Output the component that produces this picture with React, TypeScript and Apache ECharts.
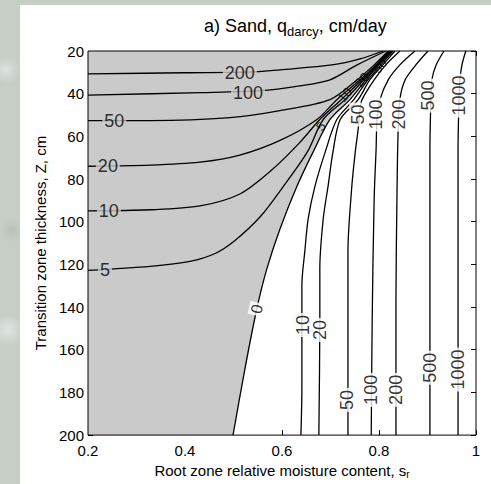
import React, { useEffect, useRef } from "react";
import * as echarts from "echarts";

// axis ranges
const xRange: [number, number] = [0.2, 1];
const yRange: [number, number] = [20, 200];
const xStep = 0.2;
const yStep = 20;

// contour lines: [s_r, Z]
const neg200 = [[0.2, 30.7], [0.4, 30.2], [0.544, 29.8], [0.596, 28.8], [0.703, 26.5], [0.761, 23.7], [0.808, 20]];
const neg100 = [[0.2, 40.7], [0.431, 39.5], [0.555, 38.6], [0.637, 36.3], [0.699, 33.5], [0.755, 26.5], [0.814, 20]];
const neg50 = [[0.2, 52.6], [0.328, 52.6], [0.493, 51.2], [0.596, 47.9], [0.699, 42.8], [0.755, 33.5], [0.79, 26.5], [0.819, 20]];
const neg20 = [[0.2, 74.0], [0.328, 73.5], [0.431, 72.1], [0.513, 68.8], [0.596, 61.9], [0.672, 52.1], [0.713, 42.8], [0.761, 33.5], [0.794, 26.5], [0.821, 20]];
const neg10 = [[0.2, 94.9], [0.328, 94.4], [0.431, 92.6], [0.513, 87.0], [0.581, 75.3], [0.637, 62.8], [0.678, 52.1], [0.722, 42.8], [0.765, 33.5], [0.796, 26.5], [0.823, 20]];
const neg5 = [[0.2, 122.8], [0.328, 120.9], [0.41, 118.6], [0.462, 114.9], [0.503, 108.8], [0.555, 97.7], [0.602, 83.7], [0.652, 67.4], [0.685, 52.1], [0.73, 42.8], [0.769, 33.5], [0.798, 26.5], [0.825, 20]];
const zero = [[0.499, 200], [0.524, 168.4], [0.548, 140.9], [0.569, 121.9], [0.596, 103.3], [0.631, 83.3], [0.664, 67.4], [0.699, 52.1], [0.74, 42.8], [0.773, 33.5], [0.8, 26.5], [0.827, 20]];
const pos10 = [[0.639, 200], [0.641, 177.7], [0.641, 143.7], [0.641, 129.8], [0.647, 114.0], [0.654, 98.6], [0.668, 83.3], [0.689, 67.4], [0.713, 52.1], [0.748, 42.8], [0.777, 33.5], [0.804, 26.5], [0.829, 20]];
const pos20 = [[0.676, 200], [0.678, 145.1], [0.678, 121.9], [0.685, 98.6], [0.695, 83.3], [0.705, 67.4], [0.72, 52.1], [0.757, 42.8], [0.781, 33.5], [0.808, 26.5], [0.833, 20]];
const pos50 = [[0.736, 200], [0.736, 145.1], [0.736, 114.0], [0.744, 83.3], [0.751, 67.4], [0.757, 56.7], [0.761, 47.4], [0.765, 42.8], [0.79, 33.5], [0.814, 26.5], [0.843, 20]];
const pos100 = [[0.784, 200], [0.786, 145.1], [0.79, 89.3], [0.794, 66.0], [0.796, 52.1], [0.802, 42.8], [0.819, 33.5], [0.843, 26.5], [0.874, 20]];
const pos200 = [[0.835, 200], [0.835, 135.8], [0.837, 89.3], [0.839, 61.4], [0.843, 42.8], [0.854, 33.5], [0.876, 26.5], [0.901, 20]];
const pos500 = [[0.905, 200], [0.905, 135.8], [0.905, 66.0], [0.907, 42.8], [0.909, 33.5], [0.918, 26.5], [0.934, 20]];
const pos1000 = [[0.963, 200], [0.963, 135.8], [0.963, 66.0], [0.965, 42.8], [0.967, 33.5], [0.971, 26.5], [0.979, 20]];

const contours = [neg200, neg100, neg50, neg20, neg10, neg5, zero, pos10, pos20, pos50, pos100, pos200, pos500, pos1000];

// shaded (negative flux) region: left of the zero contour
const shadedCorners = [[0.2, 20], [0.2, 200]];

// contour labels
const negLabels = [
  { name: "200", value: [0.513, 30.2] },
  { name: "100", value: [0.53, 39.5] },
  { name: "50", value: [0.254, 52.6] },
  { name: "20", value: [0.241, 74.0] },
  { name: "10", value: [0.243, 94.9] },
  { name: "5", value: [0.235, 122.8] },
];
const posLabels = [
  { name: "10", value: [0.643, 148.4] },
  { name: "20", value: [0.678, 150.7] },
  { name: "50", value: [0.735, 183.5] },
  { name: "100", value: [0.783, 178.8] },
  { name: "200", value: [0.835, 178.8] },
  { name: "500", value: [0.905, 168.4] },
  { name: "1000", value: [0.963, 169.3] },
  { name: "50", value: [0.757, 49.8] },
  { name: "100", value: [0.794, 49.8] },
  { name: "200", value: [0.841, 49.8] },
  { name: "500", value: [0.901, 40.9] },
  { name: "1000", value: [0.965, 40.9] },
];
const zeroLabel = [{ name: "0", value: [0.548, 140.9] }];
const crowdedLabels = [
  { name: "5", value: [0.68, 55.3] },
  { name: "10", value: [0.73, 40.5] },
  { name: "20", value: [0.765, 33.5] },
  { name: "50", value: [0.802, 27.0] },
];

const FONT = "'Liberation Sans', Arial, Helvetica, sans-serif";
const SHADE = "#cacaca";

function labelSeries(data: any[], rotate: number, bg: string, size: number, z: number) {
  return {
    type: "scatter",
    data,
    symbolSize: 1,
    itemStyle: { color: "rgba(0,0,0,0)" },
    silent: true,
    z,
    label: {
      show: true,
      position: "inside",
      formatter: (p: any) => p.name,
      rotate,
      fontSize: size,
      fontFamily: FONT,
      color: "#000",
      backgroundColor: bg,
      padding: [0, 2],
    },
  };
}

export default function App() {
  const ref = useRef<HTMLDivElement>(null);
  useEffect(() => {
    if (!ref.current) return;
    const chart = echarts.init(ref.current, null, { renderer: "svg" });
    const polygon = [...zero, ...shadedCorners];
    const option: any = {
      animation: false,
      title: {
        text: "a) Sand, q{sub|darcy}, cm/day",
        left: 199,
        top: 9,
        textStyle: {
          fontSize: 18,
          fontWeight: "normal",
          color: "#000",
          fontFamily: FONT,
          rich: { sub: { fontSize: 13, fontFamily: FONT, color: "#000", padding: [11, 0, 0, 0] } },
        },
      },
      grid: { left: 88, top: 51, width: 388, height: 387 },
      xAxis: [
        {
          type: "value",
          min: xRange[0],
          max: xRange[1],
          interval: xStep,
          position: "bottom",
          name: "Root zone relative moisture content, s{sub|r}",
          nameLocation: "middle",
          nameGap: 21,
          nameTextStyle: {
            fontSize: 15,
            color: "#000",
            fontFamily: FONT,
            verticalAlign: "top",
            rich: { sub: { fontSize: 10, color: "#000", fontFamily: FONT, padding: [7, 0, 0, 0] } },
          },
          axisLine: { show: false },
          axisTick: { show: true, inside: true, length: 5, lineStyle: { color: "#000" } },
          splitLine: { show: false },
          axisLabel: {
            fontSize: 15,
            color: "#000",
            fontFamily: FONT,
            margin: 8,
            formatter: (v: number) => {
              const r = Math.round(v * 10) / 10;
              return r === 1 ? "1" : r.toFixed(1);
            },
          },
        },
        {
          type: "value",
          min: xRange[0],
          max: xRange[1],
          interval: xStep,
          position: "top",
          axisLine: { show: false },
          axisTick: { show: true, inside: true, length: 5, lineStyle: { color: "#000" } },
          splitLine: { show: false },
          axisLabel: { show: false },
        },
      ],
      yAxis: [
        {
          type: "value",
          inverse: true,
          min: yRange[0],
          max: yRange[1],
          interval: yStep,
          position: "left",
          name: "Transition zone thickness, Z, cm",
          nameLocation: "middle",
          nameGap: 40,
          nameTextStyle: { fontSize: 15, color: "#000", fontFamily: FONT },
          axisLine: { show: false },
          axisTick: { show: true, inside: true, length: 5, lineStyle: { color: "#000" } },
          splitLine: { show: false },
          axisLabel: { fontSize: 15, color: "#000", fontFamily: FONT, margin: 4 },
        },
        {
          type: "value",
          inverse: true,
          min: yRange[0],
          max: yRange[1],
          interval: yStep,
          position: "right",
          axisLine: { show: false },
          axisTick: { show: true, inside: true, length: 5, lineStyle: { color: "#000" } },
          splitLine: { show: false },
          axisLabel: { show: false },
        },
      ],
      series: [
        {
          type: "custom",
          z: 1,
          silent: true,
          data: polygon,
          renderItem: (params: any, api: any) => {
            if (params.dataIndex !== 0) return { type: "group", children: [] };
            return {
              type: "polygon",
              shape: { points: polygon.map((p) => api.coord(p)) },
              style: { fill: SHADE, stroke: "none" },
            };
          },
        },
        ...contours.map((pts) => ({
          type: "line",
          data: pts,
          smooth: 0.3,
          symbol: "none",
          silent: true,
          z: 2,
          lineStyle: { color: "#000", width: 1.3 },
        })),
        labelSeries(negLabels, 0, SHADE, 18, 4),
        labelSeries(posLabels, 90, "#fff", 18, 4),
        labelSeries(zeroLabel, 78, "#fff", 16, 4),
        labelSeries(crowdedLabels, 50, "rgba(0,0,0,0)", 13, 4),
        {
          type: "custom",
          z: 6,
          silent: true,
          data: [[xRange[0], yRange[0]], [xRange[1], yRange[1]]],
          renderItem: (params: any, api: any) => {
            if (params.dataIndex !== 0) return { type: "group", children: [] };
            const a = api.coord([xRange[0], yRange[0]]);
            const b = api.coord([xRange[1], yRange[1]]);
            return {
              type: "rect",
              shape: { x: a[0], y: a[1], width: b[0] - a[0], height: b[1] - a[1] },
              style: { fill: "none", stroke: "#000", lineWidth: 1 },
            };
          },
        },
      ],
    };
    chart.setOption(option);
    return () => chart.dispose();
  }, []);

  return (
    <div
      style={{
        position: "fixed",
        left: 0,
        top: 0,
        width: 491,
        height: 484,
        overflow: "hidden",
        background:
          "radial-gradient(circle at 6px 70px, #dde3dd 0, rgba(0,0,0,0) 14px), radial-gradient(circle at 12px 230px, #b9c2b9 0, rgba(0,0,0,0) 12px), radial-gradient(circle at 8px 330px, #dfe4df 0, rgba(0,0,0,0) 16px), #c6cec6",
      }}
    >
      <div style={{ position: "absolute", left: 20, top: 5, width: 471, height: 479, background: "#fff" }} />
      <div ref={ref} style={{ position: "absolute", left: 0, top: 0, width: 491, height: 484 }} />
    </div>
  );
}
